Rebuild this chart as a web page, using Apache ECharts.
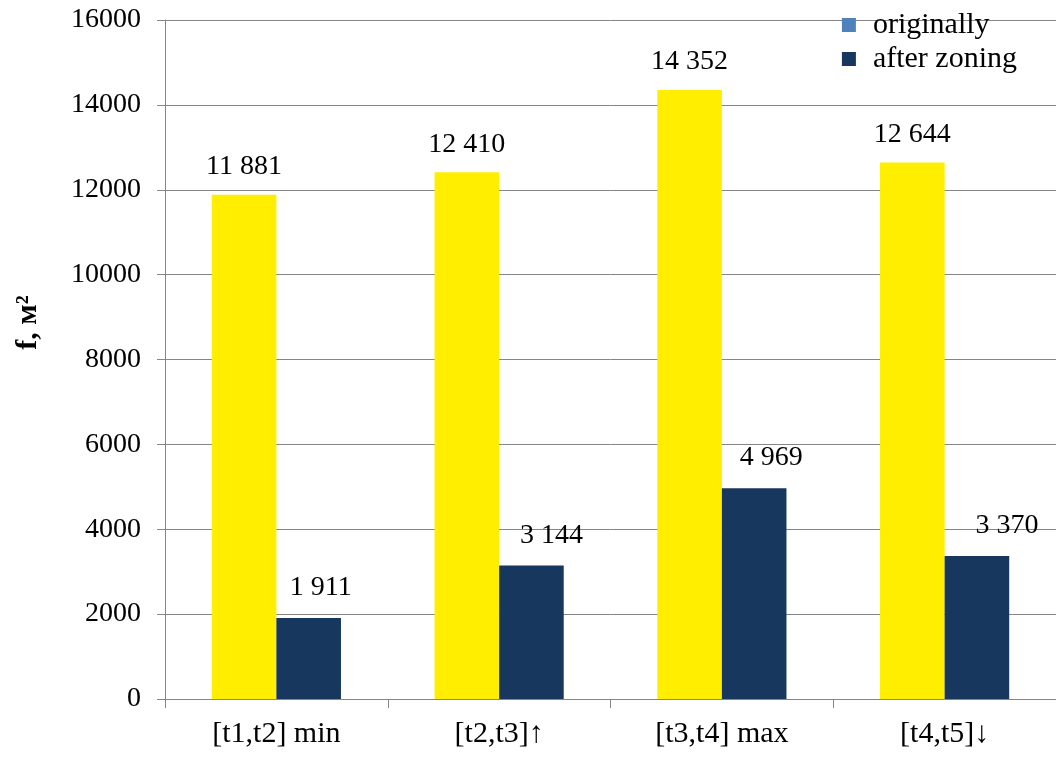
<!DOCTYPE html>
<html>
<head>
<meta charset="utf-8">
<script src="https://cdn.jsdelivr.net/npm/echarts@6/dist/echarts.min.js"></script>
<style>
  html, body { margin: 0; padding: 0; background: #fff; }
  #chart { width: 1056px; height: 757px; }
</style>
</head>
<body>
<div id="chart"></div>
<script>
const categories = ['[t1,t2] min', '[t2,t3]↑', '[t3,t4] max', '[t4,t5]↓'];
const originally = [11881, 12410, 14352, 12644];
const afterZoning = [1911, 3144, 4969, 3370];
const yTicks = {min: 0, max: 16000, interval: 2000};

// the dark bar labels sit a little right of their bars in the original, by varying amounts
const darkLabelShift = [12, 20, 17, 30];

const serif = 'Liberation Serif';

function spaced(value) {
  return String(value).replace(/\B(?=(\d{3})+(?!\d))/g, ' ');
}

const chart = echarts.init(document.getElementById('chart'));

chart.setOption({
  animation: false,
  textStyle: {fontFamily: serif},
  grid: {left: 165, right: 0, top: 20, bottom: 58},
  legend: {
    orient: 'vertical',
    right: 34,
    top: 5,
    itemWidth: 14,
    itemHeight: 14,
    itemGap: 4,
    icon: 'rect',
    textStyle: {fontFamily: serif, fontSize: 30, color: '#000', padding: [0, 0, 0, 12]},
    data: [
      {name: 'originally', itemStyle: {color: '#4f81bd'}},
      {name: 'after zoning', itemStyle: {color: '#17375e'}}
    ]
  },
  xAxis: {
    type: 'category',
    data: categories,
    axisLine: {lineStyle: {color: '#868686'}},
    axisTick: {show: true, length: 9, lineStyle: {color: '#868686'}},
    axisLabel: {color: '#000', fontSize: 30, margin: 20, fontFamily: serif}
  },
  yAxis: {
    type: 'value',
    min: yTicks.min,
    max: yTicks.max,
    interval: yTicks.interval,
    name: 'f, м²',
    nameLocation: 'middle',
    nameGap: 122,
    nameTextStyle: {
      fontFamily: serif, fontSize: 30, fontWeight: 'bold', color: '#000',
      padding: [0, 0, 0, 74]
    },
    axisLine: {show: true, lineStyle: {color: '#868686'}},
    axisTick: {show: true, length: 8, lineStyle: {color: '#868686'}},
    axisLabel: {color: '#000', fontSize: 28, margin: 24, fontFamily: serif, formatter: (v) => String(v)},
    splitLine: {lineStyle: {color: '#868686'}}
  },
  series: [
    {
      name: 'originally',
      type: 'bar',
      data: originally,
      barGap: '0%',
      barCategoryGap: '42%',
      itemStyle: {color: '#ffee00'},
      label: {
        show: true,
        position: 'top',
        distance: 14,
        fontSize: 28,
        fontFamily: serif,
        color: '#000',
        formatter: (p) => spaced(p.value)
      }
    },
    {
      name: 'after zoning',
      type: 'bar',
      data: afterZoning.map((v, i) => ({value: v, label: {offset: [darkLabelShift[i], 0]}})),
      itemStyle: {color: '#17375e'},
      label: {
        show: true,
        position: 'top',
        distance: 16,
        fontSize: 28,
        fontFamily: serif,
        color: '#000',
        formatter: (p) => spaced(p.value)
      }
    }
  ]
});
</script>
</body>
</html>
